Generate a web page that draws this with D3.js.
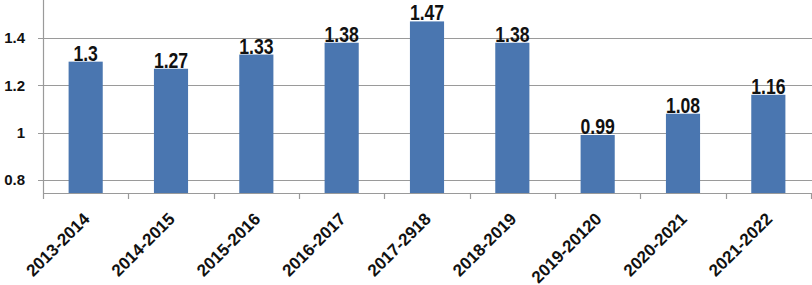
<!DOCTYPE html>
<html>
<head>
<meta charset="utf-8">
<script src="https://cdn.jsdelivr.net/npm/d3@7"></script>
<style>
  body { margin: 0; background: #fff; }
  svg { display: block; }
</style>
</head>
<body>
<svg id="chart" width="812" height="285"></svg>
<script>
const categories = ["2013-2014", "2014-2015", "2015-2016", "2016-2017", "2017-2918", "2018-2019", "2019-20120", "2020-2021", "2021-2022"];
const values = [1.3, 1.27, 1.33, 1.38, 1.47, 1.38, 0.99, 1.08, 1.16];
const yTicks = [0.8, 1, 1.2, 1.4];
const yDomain = [0.745, 1.5605];

const width = 812, height = 285;
const margin = { top: 0, right: 1, bottom: 92, left: 43 };

const svg = d3.select("#chart");

const x = d3.scaleBand(categories, [margin.left, width - margin.right]);
const y = d3.scaleLinear(yDomain, [height - margin.bottom, margin.top]);
const barW = x.bandwidth() * 0.4;

// gridlines + y labels
const gy = svg.append("g");
gy.selectAll("line")
  .data(yTicks)
  .join("line")
    .attr("x1", margin.left - 5)
    .attr("x2", width)
    .attr("y1", d => Math.round(y(d)) + 0.5)
    .attr("y2", d => Math.round(y(d)) + 0.5)
    .attr("stroke", "#9a9a9a")
    .attr("stroke-width", 1.2);
gy.selectAll("text")
  .data(yTicks)
  .join("text")
    .attr("x", 25)
    .attr("y", d => y(d))
    .attr("dy", "0.36em")
    .attr("text-anchor", "end")
    .attr("font-family", "Liberation Sans, Arial, sans-serif")
    .attr("font-weight", "bold")
    .attr("font-size", 15)
    .attr("fill", "#111")
    .text(d => d);

// bars
svg.append("g")
  .selectAll("rect")
  .data(values)
  .join("rect")
    .attr("x", (d, i) => x(categories[i]) + (x.bandwidth() - barW) / 2)
    .attr("y", d => y(d))
    .attr("width", barW)
    .attr("height", d => y(yDomain[0]) - y(d))
    .attr("fill", "#4a76b0");

// value labels (narrow look: squeeze horizontally)
svg.append("g")
  .selectAll("text")
  .data(values)
  .join("text")
    .attr("transform", (d, i) => `translate(${x(categories[i]) + x.bandwidth() / 2},${y(d) - 1}) scale(0.8,1)`)
    .attr("text-anchor", "middle")
    .attr("font-family", "Liberation Sans, Arial, sans-serif")
    .attr("font-weight", "bold")
    .attr("font-size", 22)
    .attr("fill", "#111")
    .text(d => d);

// axes lines
const axisColor = "#9a9a9a";
svg.append("line")
  .attr("x1", margin.left + 0.5).attr("x2", margin.left + 0.5)
  .attr("y1", 0).attr("y2", height - margin.bottom)
  .attr("stroke", axisColor).attr("stroke-width", 1.2);
svg.append("line")
  .attr("x1", margin.left).attr("x2", width)
  .attr("y1", height - margin.bottom + 0.5).attr("y2", height - margin.bottom + 0.5)
  .attr("stroke", axisColor).attr("stroke-width", 1.2);

// x ticks at band boundaries
const bounds = categories.map(c => x(c)).concat([x(categories[categories.length - 1]) + x.bandwidth()]);
svg.append("g")
  .selectAll("line")
  .data(bounds)
  .join("line")
    .attr("x1", d => Math.round(d) + 0.5)
    .attr("x2", d => Math.round(d) + 0.5)
    .attr("y1", height - margin.bottom)
    .attr("y2", height - margin.bottom + 6)
    .attr("stroke", axisColor)
    .attr("stroke-width", 1.2);

// x labels
svg.append("g")
  .selectAll("text")
  .data(categories)
  .join("text")
    .attr("transform", d => `translate(${x(d) + x.bandwidth() / 2 + 5},${height - margin.bottom + 27}) rotate(-45)`)
    .attr("text-anchor", "end")
    .attr("font-family", "Liberation Sans, Arial, sans-serif")
    .attr("font-weight", "bold")
    .attr("font-size", 17)
    .attr("fill", "#111")
    .text(d => d);
</script>
</body>
</html>
